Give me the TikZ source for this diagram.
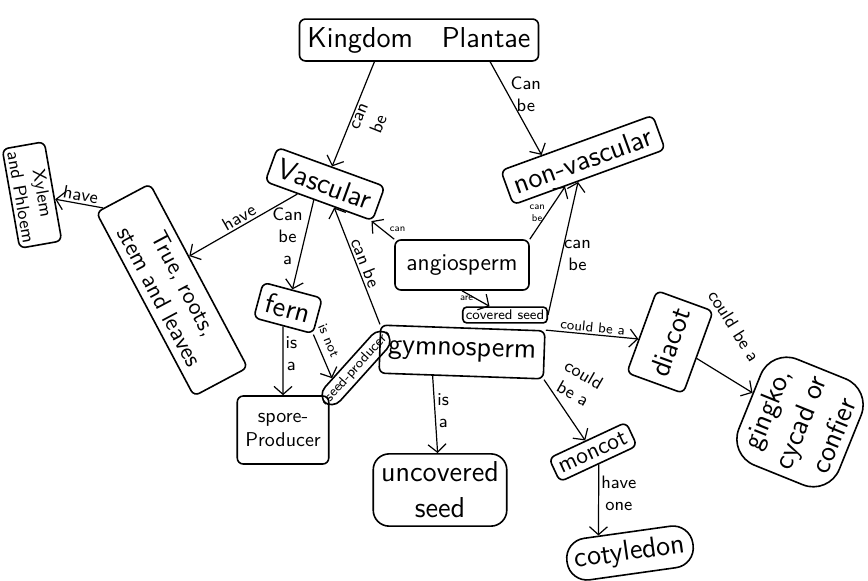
\documentclass[tikz,border=0pt]{standalone}
\usetikzlibrary{arrows.meta}

\begin{document}
\begin{tikzpicture}[
			x=0.5pt, y=-0.5pt,
			concept/.style={draw, thick, rounded corners=3pt, align=center, inner sep=4pt, font=\sffamily\Large},
			tinybox/.style={concept, inner sep=1.5pt, rounded corners=2pt, font=\sffamily\tiny},
			link/.style={draw, semithick, -{Straight Barb[length=4pt, width=9pt]}},
			lbl/.style={font=\sffamily\small, align=center, inner sep=1pt},
			tinylbl/.style={lbl, font=\sffamily\tiny}
			]
			\useasboundingbox (0,0) rectangle (868,580);
			% concepts
			\node[concept] (kp) at (419,40) {Kingdom\quad Plantae};
			\node[concept, rotate=-20] (vasc) at (325,184) {Vascular};
			\node[concept, rotate=20] (nonv) at (583,160) {non-vascular};
			\node[concept, rotate=-62, font=\sffamily\large, minimum width=104pt] (trs) at (172,290) {True, roots,\\stem and leaves};
			\node[concept, rotate=-80, font=\sffamily\small, inner sep=2pt] (xp) at (32,195) {Xylem\\and Phloem};
			\node[concept, font=\sffamily\large, minimum height=25pt, minimum width=67pt] (ang) at (462,265) {angiosperm};
			\node[tinybox, font=\sffamily\scriptsize] (cs) at (505,315) {covered seed};
			\node[concept, rotate=-2, minimum height=24pt] (gym) at (462,352) {gymnosperm};
			\node[tinybox, rotate=48, rounded corners=6pt, font=\sffamily\scriptsize, inner sep=2pt] (sp) at (356,368) {seed-producer};
			\node[concept, rotate=-15] (fern) at (288,308) {fern};
			\node[concept, font=\sffamily\normalsize, minimum height=34pt] (spore) at (283,430) {spore-\\Producer};
			\node[concept, rounded corners=8pt] (unc) at (440,490) {uncovered\\seed};
			\node[concept, rotate=25, font=\sffamily\large, inner sep=3pt] (mono) at (593,452) {moncot};
			\node[concept, rotate=8, rounded corners=10pt] (cot) at (630,553) {cotyledon};
			\node[concept, rotate=70, minimum height=30pt] (dia) at (670,342) {diacot};
			\node[concept, rotate=68, rounded corners=14pt] (gcc) at (800,422) {gingko,\\cycad or\\confier};
			% links
			\draw[link] (kp.206) -- node[lbl, sloped, below] (l1) {can\\be} (vasc);
			\draw[link] (kp.343) -- node[lbl, right, pos=.35] (l2) {Can\\be} (nonv.153);
			\draw[link] (vasc.220) -- node[lbl, sloped, above] (l3) {have} (trs.125);
			\draw[link] (trs.192) -- node[lbl, sloped, above] (l4) {have} (xp);
			\draw[link] (vasc.255) -- node[lbl, left, pos=.4] (l5) {Can\\be\\a} (fern);
			\draw[link] (ang.north west) -- node[tinylbl, above right, pos=.3] (l6) {can} (vasc);
			\draw[link] (gym.north west) -- node[lbl, sloped, above] (l7) {can be} (vasc);
			\draw[link] (ang.north east) -- node[tinylbl, left, pos=.5] (l8) {can\\be} (nonv);
			\draw[link] (cs.east) -- node[lbl, right, pos=.45] (l9) {can\\be} (nonv);
			\draw[link] (ang.south) -- node[tinylbl, left] (l10) {are} (cs);
			\draw[link] (gym.north east) -- node[lbl, sloped, above, font=\sffamily\scriptsize] (l11) {could be a} (dia);
			\draw[link] (dia) -- node[lbl, pos=.45, xshift=6pt, yshift=24pt, rotate=-58] (l12) {could be a} (gcc);
			\draw[link] (gym.south east) -- node[lbl, pos=.3, xshift=11pt, yshift=7pt, rotate=-30] (l13) {could\\be a} (mono);
			\draw[link] (mono.south) -- node[lbl, right, pos=.4] (l14) {have\\one} (cot.143);
			\draw[link] (gym.221) -- node[lbl, right, pos=.45] (l15) {is\\a} (unc);
			\draw[link] (fern.south) -- node[lbl, right, pos=.4] (l16) {is\\a} (spore);
			\draw[link] (fern.south east) -- node[lbl, sloped, pos=.45, xshift=-5pt, yshift=6pt, font=\sffamily\scriptsize] (l17) {is not} (sp.155);
\end{tikzpicture}
\end{document}
